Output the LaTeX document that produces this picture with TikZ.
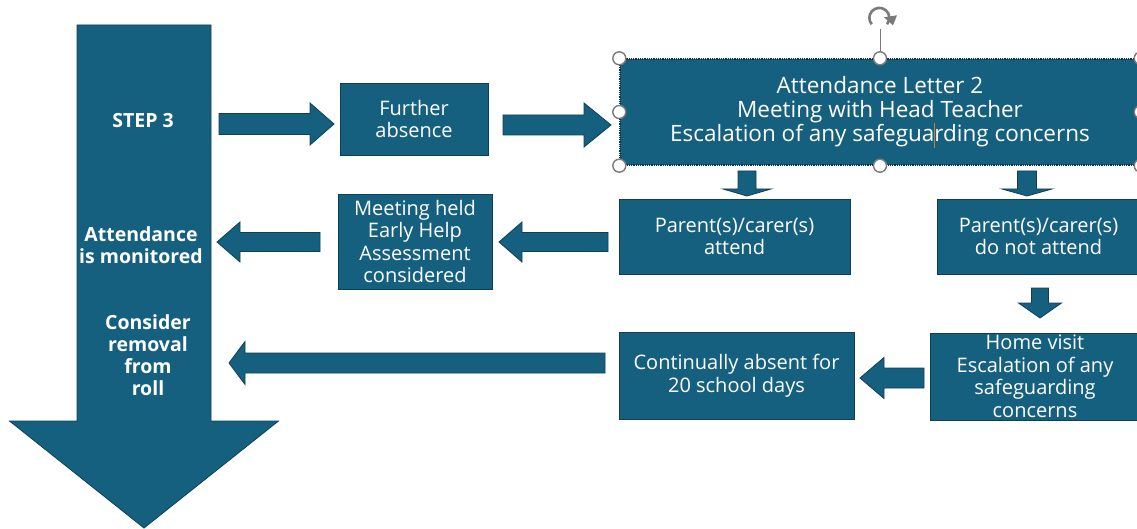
\documentclass[tikz,border=0pt]{standalone}
\usepackage{fontspec}
\setmainfont{Open Sans}
\usetikzlibrary{calc}
\definecolor{mainblue}{HTML}{16607F}
\definecolor{edgeblue}{HTML}{0E3F56}
\definecolor{handlegray}{HTML}{7A7A7A}
\definecolor{cursorc}{HTML}{D07A3A}
\newcommand{\blockarrow}[5]{%
  \coordinate (ba-h) at ($(#2)!#5!(#1)$);
  \filldraw[barrowstyle] ($(#1)!#3!90:(#2)$) -- ($(ba-h)!#3!90:(#2)$) -- ($(ba-h)!#4!90:(#2)$) -- (#2) -- ($(ba-h)!#4!-90:(#2)$) -- ($(ba-h)!#3!-90:(#2)$) -- ($(#1)!#3!-90:(#2)$) -- cycle;
}
\newcommand{\tcursor}{\makebox[0pt]{\textcolor{cursorc}{\rule[-7pt]{0.8pt}{25pt}}}}
\begin{document}
\begin{tikzpicture}[x=1pt,y=-1pt,
  barrowstyle/.style={fill=mainblue, draw=edgeblue, line width=0.8pt, line join=miter},
  box/.style={rectangle, fill=mainblue, draw=edgeblue, line width=0.8pt, text=white, align=center, inner sep=0pt, font=\fontsize{20}{22.5}\selectfont},
  selbox/.style={box, draw=edgeblue!80!black, dash pattern=on 1pt off 0.8pt, line width=1.4pt, font=\fontsize{22.5}{24}\selectfont},
  lbl/.style={text=white, align=center, inner sep=0pt, font=\bfseries\fontsize{19.5}{22}\selectfont},
  handle/.style={circle, fill=white, draw=handlegray, line width=1.4pt, minimum size=13pt, inner sep=0pt}]
\useasboundingbox (0,0) rectangle (1137,529);
\fill[white] (0,0) rectangle (1137,529);
\clip (0,0) rectangle (1137,529);

% big downward arrow
\coordinate (bigs) at (144,25);
\coordinate (bige) at (144,528);
\blockarrow{bigs}{bige}{67pt}{134.5pt}{107pt}
\node[lbl] (step) at (143,121) {STEP 3};
\node[lbl] (mon) at (141,245) {Attendance\\is monitored};
\node[lbl] (roll) at (148,355) {Consider\\removal\\from\\roll};

% boxes
\node[box, minimum width=148pt, minimum height=72pt] (fa) at (414,119) {Further\\absence};
\node[selbox, minimum width=520pt, minimum height=106pt] (main) at (880,112) {Attendance Letter 2\\Meeting with Head Teacher\\Escalation of any safegua\tcursor rding concerns};
\node[box, minimum width=231pt, minimum height=75pt] (pa) at (734.5,236.5) {Parent(s)/carer(s)\\attend};
\node[box, minimum width=203pt, minimum height=75pt] (pna) at (1038.5,236.5) {Parent(s)/carer(s)\\do not attend};
\node[box, minimum width=154pt, minimum height=95pt] (mh) at (415,241.5) {Meeting held\\Early Help\\Assessment\\considered};
\node[box, minimum width=210pt, minimum height=87pt] (hv) at (1035,376.5) {Home visit\\Escalation of any\\safeguarding\\concerns};
\node[box, minimum width=235pt, minimum height=87pt] (ca) at (736.5,375.5) {Continually absent for\\20 school days};

% selection handles of the main box
\draw[handlegray, line width=1pt] (main.north) -- ++(0,-29) coordinate (roth);
\foreach \a in {north west,north,north east,west,east,south west,south,south east}
  \node[handle] at (main.\a) {};
\begin{scope}[handlegray, line width=2.6pt]
  \draw ($(roth)+(7,-5)$) arc[start angle=40, end angle=-220, x radius=10pt, y radius=-10pt];
  \fill ($(roth)+(4,-12)$) -- ++(13,-2) -- ++(-4,10) -- cycle;
\end{scope}

% block arrows
\coordinate (a1s) at (219,124); \coordinate (a1e) at (334,124);
\blockarrow{a1s}{a1e}{10.5pt}{21pt}{24pt}
\coordinate (a2s) at (503,125); \coordinate (a2e) at (611,125);
\blockarrow{a2s}{a2e}{10pt}{22pt}{27pt}
\coordinate (a3s) at (747,171); \coordinate (a3e) at (747,196);
\blockarrow{a3s}{a3e}{9pt}{24pt}{7pt}
\coordinate (a4s) at (1027,171); \coordinate (a4e) at (1027,196);
\blockarrow{a4s}{a4e}{9.5pt}{25pt}{7pt}
\coordinate (a5s) at (608,242); \coordinate (a5e) at (499,242);
\blockarrow{a5s}{a5e}{9.5pt}{20pt}{23pt}
\coordinate (a6s) at (320,242); \coordinate (a6e) at (217,242);
\blockarrow{a6s}{a6e}{9.5pt}{20pt}{23pt}
\coordinate (a7s) at (1040,288); \coordinate (a7e) at (1040,318);
\blockarrow{a7s}{a7e}{8.5pt}{21.5pt}{15pt}
\coordinate (a8s) at (924,378); \coordinate (a8e) at (860,378);
\blockarrow{a8s}{a8e}{10pt}{20.5pt}{24pt}
\coordinate (a9s) at (605,363); \coordinate (a9e) at (229,363);
\blockarrow{a9s}{a9e}{10pt}{21.5pt}{16pt}
\end{tikzpicture}
\end{document}
